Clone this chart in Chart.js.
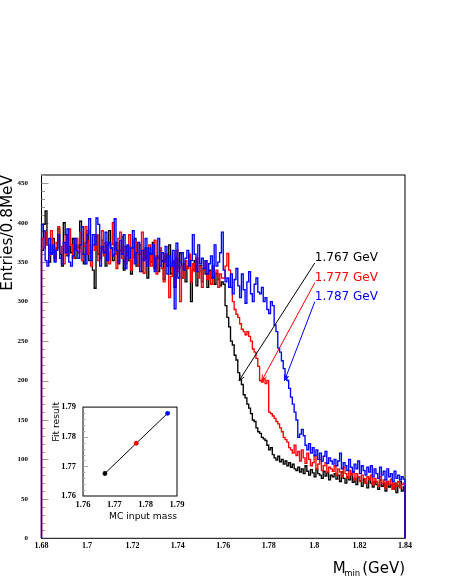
<!DOCTYPE html>
<html><head><meta charset="utf-8">
<script src="https://cdn.jsdelivr.net/npm/chart.js@4.4.1/dist/chart.umd.min.js"></script>
<style>
html,body{margin:0;padding:0;background:#fff;}
#wrap{position:relative;width:449px;height:580px;overflow:hidden;}
#main{position:absolute;left:0;top:0;}
#inset{position:absolute;left:40px;top:395px;}
</style></head><body>
<div id="wrap"><canvas id="main" width="449" height="580"></canvas><canvas id="inset" width="150" height="135"></canvas></div>
<script>
// ---- data ----
const binLow = 1.68, binWidth = 0.0008;           // 200 bins of 0.8 MeV
const blackHist = [
365,398,415,372,350,362,380,355,368,392,360,345,400,385,358,370,362,380,355,372,
368,402,360,348,375,390,352,365,340,317,385,360,355,378,364,345,372,390,368,352,
360,375,348,365,382,340,358,370,352,335,368,380,345,360,372,338,355,368,330,362,
350,375,342,358,338,365,352,328,360,345,372,335,350,318,355,342,362,330,348,325,
345,358,300,340,352,320,338,346,325,342,335,318,340,330,345,322,336,328,320,325,
322,295,280,268,250,245,232,226,210,201,195,182,178,170,165,158,150,148,140,135,
133,128,126,124,118,112,115,106,102,99,104,97,100,94,98,92,96,90,94,88,
86,90,84,88,82,92,85,80,87,83,78,88,82,80,76,85,79,83,74,80,
78,82,75,80,72,84,76,70,78,74,82,71,76,68,78,73,66,75,70,64,
76,70,65,72,68,62,74,66,70,60,72,65,68,62,70,58,66,72,60,65];
const redHist = [
380,368,388,372,358,390,365,352,375,395,362,370,348,384,360,392,372,355,368,380,
362,388,352,370,395,360,378,345,372,365,385,352,368,390,358,375,362,348,372,400,
365,342,380,388,355,370,348,362,385,340,368,355,375,345,360,388,336,365,350,372,
345,362,378,335,355,368,342,325,360,348,305,332,352,320,365,338,300,345,330,352,
342,360,325,348,338,355,330,345,318,340,352,328,338,322,345,332,340,318,335,330,
330,345,361,340,318,300,290,284,280,272,265,262,258,262,256,250,240,236,228,218,
200,198,202,196,200,160,158,155,152,148,145,140,135,128,125,122,115,112,108,118,
105,110,98,112,102,95,108,100,92,96,105,88,94,100,86,92,96,84,90,88,
85,92,80,88,84,78,90,82,76,86,80,84,74,82,78,72,80,76,70,78,
74,80,68,76,72,66,78,70,74,64,72,68,75,62,70,66,72,64,68,70];
const blueHist = [
398,390,352,345,380,360,372,350,365,385,355,348,375,362,392,350,345,358,380,365,
355,372,395,360,348,385,405,352,385,372,406,398,345,370,362,388,352,375,368,358,
405,365,350,378,360,385,342,372,355,368,390,348,362,375,338,365,352,380,345,368,
360,372,338,355,380,345,362,350,370,335,358,345,365,291,374,330,350,362,340,355,
365,345,352,385,360,338,372,348,355,342,352,335,348,358,330,372,345,350,362,388,
340,325,330,318,335,310,328,342,320,305,335,315,298,325,338,310,300,322,330,312,
310,318,300,305,290,285,300,295,270,262,241,236,225,215,205,200,190,179,170,160,
150,128,132,138,130,118,112,120,108,115,105,112,100,108,98,104,110,95,102,98,
94,100,92,98,108,88,96,92,86,100,90,84,94,88,98,82,92,86,80,90,
84,92,78,88,82,76,90,80,85,74,88,78,82,72,85,76,80,74,78,75];

const seriesLabels = ['1.767 GeV', '1.777 GeV', '1.787 GeV'];
const seriesColors = ['#000000', '#ff0000', '#0000ff'];
const arrowTipX = [1.767, 1.777, 1.787];
const arrowTipY = [200, 200, 200];
const arrowTailX = [1.8003, 1.8003, 1.8003];
const arrowTailY = [349, 324, 300];

const mcMass = [1.767, 1.777, 1.787];
const fitResult = [1.7676, 1.7778, 1.7879];

const xTitle = ['M', 'min', '(GeV)'];
const yTitle = 'Entries/0.8MeV';
const insetXTitle = 'MC input mass';
const insetYTitle = 'Fit result';

// ---- build histogram outlines ----
function histPoints(vals) {
  const pts = [{x: binLow, y: 0}];
  vals.forEach((v, i) => pts.push({x: binLow + i * binWidth, y: v}));
  const hi = binLow + vals.length * binWidth;
  pts.push({x: hi, y: vals[vals.length - 1]});
  pts.push({x: hi, y: 0});
  return pts;
}
const hists = [blackHist, redHist, blueHist];
const order = [2, 1, 0]; // blue on top
const datasets = order.map(i => ({
  label: seriesLabels[i],
  data: histPoints(hists[i]),
  borderColor: seriesColors[i],
  borderWidth: 1.35,
  stepped: 'before',
  pointRadius: 0,
  fill: false,
  clip: 3
}));

const fmt = v => String(+(+v).toFixed(2));

const mainDecor = {
  id: 'mainDecor',
  beforeDatasetsDraw(chart) {
    const {ctx, chartArea: a, scales: {x, y}} = chart;
    ctx.save();
    ctx.strokeStyle = '#000';
    ctx.lineWidth = 1;
    ctx.strokeRect(a.left, a.top, a.right - a.left, a.bottom - a.top);
    // inward y ticks
    ctx.strokeStyle = '#999';
    for (let v = 10; v <= 460; v += 10) {
      const py = Math.round(y.getPixelForValue(v)) + 0.5;
      const len = v % 50 === 0 ? 7 : 3.5;
      ctx.beginPath(); ctx.moveTo(a.left, py); ctx.lineTo(a.left + len, py); ctx.stroke();
    }
    ctx.restore();
  },
  afterDatasetsDraw(chart) {
    const {ctx, chartArea: a, scales: {x, y}} = chart;
    ctx.save();
    for (let i = 0; i < seriesLabels.length; i++) {
      const tx = x.getPixelForValue(arrowTailX[i]), ty = y.getPixelForValue(arrowTailY[i]);
      const hx = x.getPixelForValue(arrowTipX[i]), hy = y.getPixelForValue(arrowTipY[i]);
      ctx.strokeStyle = seriesColors[i];
      ctx.lineWidth = 1;
      ctx.beginPath(); ctx.moveTo(tx, ty); ctx.lineTo(hx, hy); ctx.stroke();
      const ang = Math.atan2(ty - hy, tx - hx);
      ctx.beginPath();
      ctx.moveTo(hx + 6 * Math.cos(ang + 0.4), hy + 6 * Math.sin(ang + 0.4));
      ctx.lineTo(hx, hy);
      ctx.lineTo(hx + 6 * Math.cos(ang - 0.4), hy + 6 * Math.sin(ang - 0.4));
      ctx.stroke();
      ctx.fillStyle = seriesColors[i];
      ctx.font = '12px "DejaVu Sans"';
      ctx.textAlign = 'left';
      ctx.textBaseline = 'middle';
      ctx.fillText(seriesLabels[i], tx, ty - 4.7);
    }
    // axis titles
    ctx.fillStyle = '#000';
    ctx.textBaseline = 'alphabetic';
    ctx.save();
    ctx.translate(12, a.top);
    ctx.rotate(-Math.PI / 2);
    ctx.textAlign = 'right';
    ctx.font = '15.3px "DejaVu Sans"';
    ctx.fillText(yTitle, 0, 0);
    ctx.restore();
    ctx.textAlign = 'left';
    ctx.font = '15px "DejaVu Sans"';
    let px = 332.7;
    ctx.fillText(xTitle[0], px, 572.7);
    px += ctx.measureText(xTitle[0]).width - 1.5;
    ctx.font = '8.5px "DejaVu Sans"';
    ctx.fillText(xTitle[1], px, 576.3);
    ctx.font = '15px "DejaVu Sans"';
    ctx.textAlign = 'right';
    ctx.fillText(xTitle[2], a.right, 572.7);
    ctx.restore();
  }
};

new Chart(document.getElementById('main'), {
  type: 'line',
  data: {datasets},
  options: {
    responsive: false,
    animation: false,
    events: [],
    layout: {padding: {left: 0, top: 175, right: 44, bottom: 0}},
    plugins: {legend: {display: false}, tooltip: {enabled: false}},
    scales: {
      x: {
        type: 'linear', min: 1.68, max: 1.84,
        afterFit: s => { s.height = 41.7; },
        grid: {display: false, drawTicks: false},
        border: {display: false},
        ticks: {stepSize: 0.02, includeBounds: false, autoSkip: false, maxRotation: 0, padding: 3,
                color: '#000', font: {family: 'Liberation Serif', weight: 'bold', size: 8}, callback: fmt}
      },
      y: {
        type: 'linear', min: 0, max: 460.5,
        afterFit: s => { s.width = 41.5; },
        grid: {display: false, drawTicks: false},
        border: {display: false},
        ticks: {stepSize: 50, includeBounds: false, padding: 13.5,
                color: '#000', font: {family: 'Liberation Serif', weight: 'bold', size: 7}, callback: v => String(v)}
      }
    }
  },
  plugins: [mainDecor]
});

// ---- inset ----
const insetDecor = {
  id: 'insetDecor',
  beforeDatasetsDraw(chart) {
    const {ctx, chartArea: a, scales: {x, y}} = chart;
    ctx.save();
    ctx.fillStyle = '#fff';
    ctx.fillRect(a.left, a.top, a.right - a.left, a.bottom - a.top);
    ctx.strokeStyle = '#000';
    ctx.lineWidth = 1;
    ctx.strokeRect(a.left, a.top, a.right - a.left, a.bottom - a.top);
    ctx.strokeStyle = '#aaa';
    for (let k = 1; k < 15; k++) {
      const v = 1.76 + k * 0.002;
      const py = Math.round(y.getPixelForValue(v)) + 0.5;
      const len = k % 5 === 0 ? 5 : 2.5;
      ctx.beginPath(); ctx.moveTo(a.left, py); ctx.lineTo(a.left + len, py); ctx.stroke();
    }
    ctx.restore();
  },
  afterDraw(chart) {
    const {ctx, chartArea: a} = chart;
    ctx.save();
    ctx.fillStyle = '#000';
    ctx.font = '9.2px "DejaVu Sans"';
    ctx.textAlign = 'right';
    ctx.textBaseline = 'middle';
    ctx.fillText(insetXTitle, a.right, 121.7);
    ctx.translate(16.5, 7);
    ctx.rotate(-Math.PI / 2);
    ctx.fillText(insetYTitle, 0, 0);
    ctx.restore();
  }
};

new Chart(document.getElementById('inset'), {
  type: 'scatter',
  data: {datasets: [{
    data: mcMass.map((m, i) => ({x: m, y: fitResult[i]})),
    showLine: true,
    borderColor: '#000',
    borderWidth: 1,
    pointRadius: 2.4,
    pointBackgroundColor: seriesColors,
    pointBorderColor: seriesColors,
    pointBorderWidth: 0
  }]},
  options: {
    responsive: false,
    animation: false,
    events: [],
    layout: {padding: {left: 0, top: 9, right: 13, bottom: 0}},
    plugins: {legend: {display: false}, tooltip: {enabled: false}},
    scales: {
      x: {
        type: 'linear', min: 1.76, max: 1.79,
        afterFit: s => { s.height = 34; },
        grid: {display: false, drawTicks: false},
        border: {display: false},
        ticks: {stepSize: 0.01, autoSkip: false, maxRotation: 0, padding: 4,
                color: '#000', font: {family: 'Liberation Serif', weight: 'bold', size: 8.5}, callback: fmt}
      },
      y: {
        type: 'linear', min: 1.76, max: 1.79,
        afterFit: s => { s.width = 43; },
        grid: {display: false, drawTicks: false},
        border: {display: false},
        ticks: {stepSize: 0.01, padding: 7,
                color: '#000', font: {family: 'Liberation Serif', weight: 'bold', size: 8.5}, callback: fmt}
      }
    }
  },
  plugins: [insetDecor]
});
</script>
</body></html>
